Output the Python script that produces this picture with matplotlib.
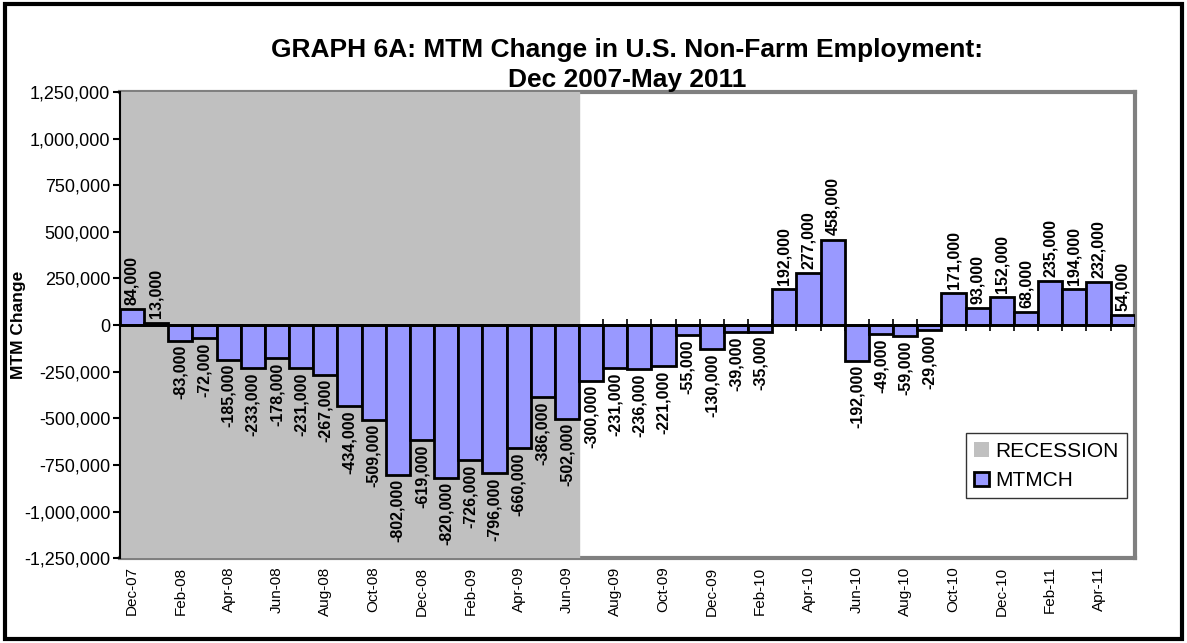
import matplotlib.pyplot as plt
from matplotlib.patches import Patch, Rectangle
from matplotlib.ticker import FuncFormatter

plt.rcParams['font.family'] = ['Liberation Sans', 'DejaVu Sans']

# Nhãn tháng và số thay đổi việc làm theo tháng
months = ['Dec-07', 'Jan-08', 'Feb-08', 'Mar-08', 'Apr-08', 'May-08', 'Jun-08',
          'Jul-08', 'Aug-08', 'Sep-08', 'Oct-08', 'Nov-08', 'Dec-08', 'Jan-09',
          'Feb-09', 'Mar-09', 'Apr-09', 'May-09', 'Jun-09', 'Jul-09', 'Aug-09',
          'Sep-09', 'Oct-09', 'Nov-09', 'Dec-09', 'Jan-10', 'Feb-10', 'Mar-10',
          'Apr-10', 'May-10', 'Jun-10', 'Jul-10', 'Aug-10', 'Sep-10', 'Oct-10',
          'Nov-10', 'Dec-10', 'Jan-11', 'Feb-11', 'Mar-11', 'Apr-11', 'May-11']
mtmch = [84000, 13000, -83000, -72000, -185000, -233000, -178000,
         -231000, -267000, -434000, -509000, -802000, -619000, -820000,
         -726000, -796000, -660000, -386000, -502000, -300000, -231000,
         -236000, -221000, -55000, -130000, -39000, -35000, 192000,
         277000, 458000, -192000, -49000, -59000, -29000, 171000,
         93000, 152000, 68000, 235000, 194000, 232000, 54000]
recession_months = ['Dec-07', 'Jun-09']  # đầu và cuối thời kỳ suy thoái
y_ticks = [1250000, 1000000, 750000, 500000, 250000, 0, -250000, -500000,
           -750000, -1000000, -1250000]

fig = plt.figure(figsize=(11.87, 6.43), dpi=100)
ax = fig.add_axes([0.101, 0.132, 0.855, 0.725])

x = list(range(len(months)))
r0 = months.index(recession_months[0])
r1 = months.index(recession_months[1])
ax.axvspan(r0 - 0.5, r1 + 0.5, color='#C0C0C0', zorder=1)

ax.bar(x, mtmch, width=1.0, color='#9999FF', edgecolor='black', linewidth=2, zorder=3)
ax.axhline(0, color='black', linewidth=2, zorder=4)

# Nhãn dữ liệu xoay dọc
for xi, v in zip(x, mtmch):
    if v >= 0:
        ax.annotate(f'{v:,}', (xi, v), xytext=(0, 3), textcoords='offset points',
                    rotation=90, ha='center', va='bottom', fontsize=11.5, fontweight='bold', zorder=5)
    else:
        ax.annotate(f'{v:,}', (xi, v), xytext=(0, -3), textcoords='offset points',
                    rotation=90, ha='center', va='top', fontsize=11.5, fontweight='bold', zorder=5)

ax.set_xlim(-0.5, len(months) - 0.5)
ax.set_ylim(-1250000, 1250000)
ax.set_yticks(y_ticks)
ax.yaxis.set_major_formatter(FuncFormatter(lambda v, p: f'{int(v):,}'))
ax.tick_params(axis='y', labelsize=13, length=5, width=1.5, direction='out', pad=2)
ax.set_xticks(x[::2])
ax.set_xticklabels(months[::2], rotation=90, fontsize=11)
ax.tick_params(axis='x', length=0, pad=6)
ax.set_ylabel('MTM Change', fontsize=12.5, fontweight='bold')
ax.yaxis.set_label_coords(-0.093, 0.5)

# Vạch chia trên đường 0
sec = ax.secondary_xaxis(0.5)
sec.set_xticks([i + 0.5 for i in x[:-1]])
sec.set_xticklabels([])
sec.tick_params(direction='inout', length=8, width=1.2)
sec.spines['bottom'].set_visible(False)

for s in ['top', 'right', 'bottom']:
    ax.spines[s].set_color('#808080')
    ax.spines[s].set_linewidth(3)
ax.spines['top'].set_zorder(0.5)
ax.spines['bottom'].set_zorder(0.5)
ax.spines['left'].set_color('black')
ax.spines['left'].set_linewidth(1.5)
ax.spines['left'].set_zorder(6)

ax.set_title('GRAPH 6A: MTM Change in U.S. Non-Farm Employment:\nDec 2007-May 2011',
             fontsize=19, fontweight='bold', pad=3, linespacing=1.3)

handles = [Patch(facecolor='#C0C0C0', edgecolor='none', label='RECESSION'),
           Patch(facecolor='#9999FF', edgecolor='black', linewidth=2, label='MTMCH')]
leg = ax.legend(handles=handles, loc='lower right', bbox_to_anchor=(0.992, 0.128),
                fontsize=15, frameon=True, fancybox=False, edgecolor='black',
                handlelength=0.7, handleheight=0.7, handletextpad=0.3, borderpad=0.4,
                labelspacing=0.5, borderaxespad=0)
leg.get_frame().set_linewidth(1)

fig.patches.append(Rectangle((0.004, 0.006), 0.992, 0.988, transform=fig.transFigure,
                             fill=False, edgecolor='black', linewidth=3))

fig.savefig('out.png', dpi=100)
